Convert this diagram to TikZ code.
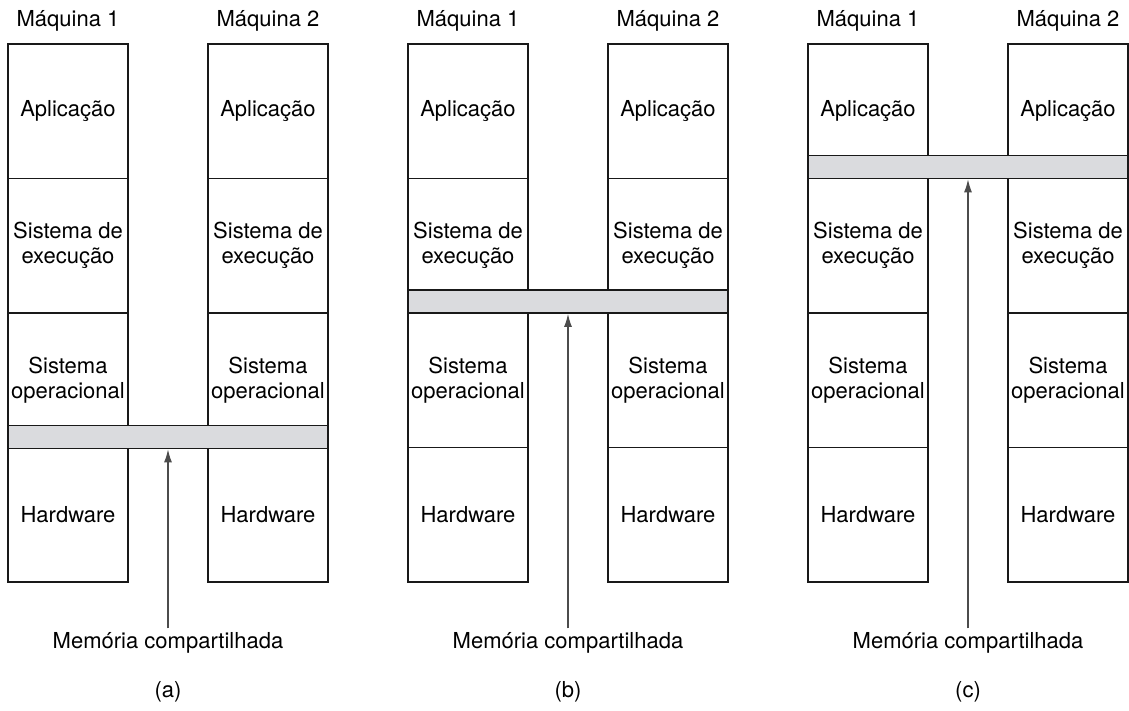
\documentclass[tikz,border=0pt]{standalone}
\usepackage{fontspec}
\setmainfont{TeX Gyre Heros}
\usepackage{xcolor}
\usepackage{tikz}
\usetikzlibrary{arrows.meta, positioning}
\definecolor{bargray}{RGB}{218,219,222}

\begin{document}
\begin{tikzpicture}[
    x=1pt, y=-1pt,
    layer/.style={rectangle, draw=black!90, line width=1.8pt, minimum width=120pt, minimum height=134.5pt, inner sep=0pt, align=center, font=\fontsize{22}{25}\selectfont},
    membar/.style={rectangle, draw=black!90, fill=bargray, line width=1.8pt, minimum width=320pt, minimum height=23pt, inner sep=0pt},
    txt/.style={anchor=base, font=\fontsize{22}{25}\selectfont},
    pointer/.style={draw=black!70, line width=1.2pt, -{Latex[length=13pt, width=8pt]}}
]
    \useasboundingbox (0,0) rectangle (1129,711);

    % Panel (a): shared memory at the hardware level
    \node[layer] (a1app) at (68,111.25) {Aplicação};
    \node[layer] (a1exe) at (68,245.75) {Sistema de\\execução};
    \node[layer] (a1os) at (68,380.25) {Sistema\\operacional};
    \node[layer] (a1hw) at (68,514.75) {Hardware};
    \node[layer] (a2app) at (268,111.25) {Aplicação};
    \node[layer] (a2exe) at (268,245.75) {Sistema de\\execução};
    \node[layer] (a2os) at (268,380.25) {Sistema\\operacional};
    \node[layer] (a2hw) at (268,514.75) {Hardware};
    \node[membar] (barA) at (168,437) {};
    \node[txt] (maqA1) at (68,27) {Máquina 1};
    \node[txt] (maqA2) at (268,27) {Máquina 2};
    \node[txt] (memA) at (168,648) {Memória compartilhada};
    \node[txt] (capA) at (168,697) {(a)};
    \draw[pointer] (memA.north) -- (barA.south);

    % Panel (b): shared memory at the operating system level
    \node[layer] (b1app) at (468,111.25) {Aplicação};
    \node[layer] (b1exe) at (468,245.75) {Sistema de\\execução};
    \node[layer] (b1os) at (468,380.25) {Sistema\\operacional};
    \node[layer] (b1hw) at (468,514.75) {Hardware};
    \node[layer] (b2app) at (668,111.25) {Aplicação};
    \node[layer] (b2exe) at (668,245.75) {Sistema de\\execução};
    \node[layer] (b2os) at (668,380.25) {Sistema\\operacional};
    \node[layer] (b2hw) at (668,514.75) {Hardware};
    \node[membar] (barB) at (568,301.5) {};
    \node[txt] (maqB1) at (468,27) {Máquina 1};
    \node[txt] (maqB2) at (668,27) {Máquina 2};
    \node[txt] (memB) at (568,648) {Memória compartilhada};
    \node[txt] (capB) at (568,697) {(b)};
    \draw[pointer] (memB.north) -- (barB.south);

    % Panel (c): shared memory at the runtime level
    \node[layer] (c1app) at (868,111.25) {Aplicação};
    \node[layer] (c1exe) at (868,245.75) {Sistema de\\execução};
    \node[layer] (c1os) at (868,380.25) {Sistema\\operacional};
    \node[layer] (c1hw) at (868,514.75) {Hardware};
    \node[layer] (c2app) at (1068,111.25) {Aplicação};
    \node[layer] (c2exe) at (1068,245.75) {Sistema de\\execução};
    \node[layer] (c2os) at (1068,380.25) {Sistema\\operacional};
    \node[layer] (c2hw) at (1068,514.75) {Hardware};
    \node[membar] (barC) at (968,167) {};
    \node[txt] (maqC1) at (868,27) {Máquina 1};
    \node[txt] (maqC2) at (1068,27) {Máquina 2};
    \node[txt] (memC) at (968,648) {Memória compartilhada};
    \node[txt] (capC) at (968,697) {(c)};
    \draw[pointer] (memC.north) -- (barC.south);

\end{tikzpicture}
\end{document}
